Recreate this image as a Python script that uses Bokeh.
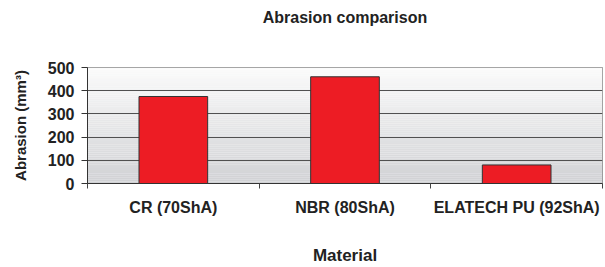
import numpy as np
from bokeh.plotting import figure
from bokeh.models import Range1d, FixedTicker, ColumnDataSource
from bokeh.embed import file_html
from bokeh.resources import INLINE

categories = ["CR (70ShA)", "NBR (80ShA)", "ELATECH PU (92ShA)"]
abrasion = [375, 460, 80]
y_ticks = [0, 100, 200, 300, 400, 500]
title_text = "Abrasion comparison"

FONT = "Liberation Sans"
TXT = "#222222"

xpos = [i + 0.5 for i in range(len(categories))]
ymax = y_ticks[-1]

p = figure(width=605, height=267, output_backend="svg", toolbar_location=None,
           x_range=Range1d(0, len(categories)), y_range=Range1d(0, ymax),
           min_border_left=87, min_border_right=3, min_border_top=67, min_border_bottom=83,
           title=title_text + "\n \n ")

# background gradient (decoration)
n = 60
edges = np.linspace(0, ymax, n + 1)
top_c = np.array([251, 251, 251])
bot_c = np.array([208, 209, 212])
cols = []
for i in range(n):
    t = (i + 0.5) / n
    c = bot_c + (top_c - bot_c) * t
    cols.append("#%02x%02x%02x" % tuple(int(round(v)) for v in c))
p.quad(left=0, right=len(categories), bottom=edges[:-1], top=edges[1:],
       fill_color=cols, line_color=None, level="image")

src = ColumnDataSource(dict(x=xpos, top=abrasion))
p.vbar(x="x", top="top", width=0.4, source=src, fill_color="#ed1c24",
       line_color="#333333", line_width=1)

p.title.text_font = FONT
p.title.text_font_size = "16px"
p.title.text_font_style = "bold"
p.title.text_color = TXT
p.title.align = "center"
p.title.vertical_align = "top"
p.title.standoff = 12

p.background_fill_color = "white"
p.border_fill_color = "white"
p.outline_line_color = "#8a8a8a"
p.outline_line_width = 1

p.xgrid.grid_line_color = None
p.ygrid.ticker = FixedTicker(ticks=y_ticks)
p.ygrid.grid_line_color = "#505050"
p.ygrid.grid_line_width = 1.2

xa = p.xaxis[0]
xa.ticker = FixedTicker(ticks=xpos, minor_ticks=list(range(len(categories) + 1)))
xa.major_label_overrides = {x: c for x, c in zip(xpos, categories)}
xa.major_tick_out = 0
xa.major_tick_in = 0
xa.minor_tick_out = 5
xa.minor_tick_in = 0
xa.minor_tick_line_color = "#444444"
xa.axis_line_color = "#333333"
xa.major_label_text_font = FONT
xa.major_label_text_font_size = "16px"
xa.major_label_text_font_style = "bold"
xa.major_label_text_color = TXT
xa.major_label_standoff = 10
xa.axis_label = "Material"
xa.axis_label_text_font = FONT
xa.axis_label_text_font_size = "17px"
xa.axis_label_text_font_style = "bold"
xa.axis_label_text_color = TXT
xa.axis_label_standoff = 27

ya = p.yaxis[0]
ya.ticker = FixedTicker(ticks=y_ticks)
ya.minor_tick_line_color = None
ya.major_tick_out = 6
ya.major_tick_in = 0
ya.major_tick_line_color = "#333333"
ya.axis_line_color = "#333333"
ya.major_label_text_font = FONT
ya.major_label_text_font_size = "16px"
ya.major_label_text_font_style = "bold"
ya.major_label_text_color = TXT
ya.major_label_standoff = 7
ya.axis_label = "Abrasion (mm³)"
ya.axis_label_text_font = FONT
ya.axis_label_text_font_size = "15px"
ya.axis_label_text_font_style = "bold"
ya.axis_label_text_color = TXT
ya.axis_label_standoff = 16

open("out.html", "w").write(file_html(p, INLINE))
